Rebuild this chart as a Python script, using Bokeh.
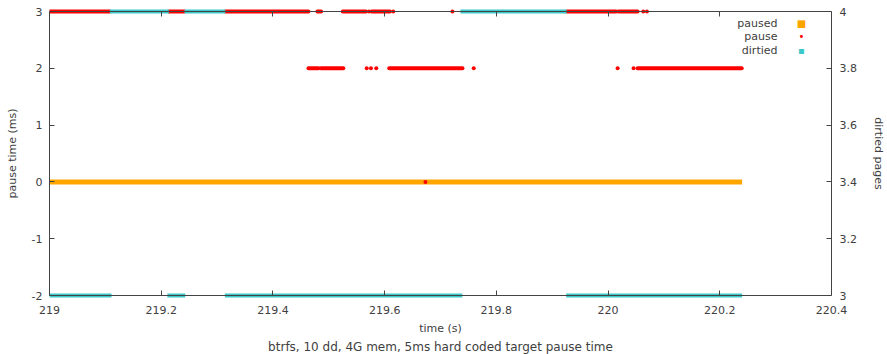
from bokeh.plotting import figure
from bokeh.models import Range1d, LinearAxis, Label, Title, FixedTicker
from bokeh.embed import file_html
from bokeh.resources import INLINE

# ---------------- data ----------------
# x axis ticks
x_ticks = [219.0, 219.2, 219.4, 219.6, 219.8, 220.0, 220.2, 220.4]
x_tick_labels = ["219", "219.2", "219.4", "219.6", "219.8", "220", "220.2", "220.4"]
# left axis (pause time, ms)
y_ticks = [-2, -1, 0, 1, 2, 3]
y_tick_labels = ["-2", "-1", "0", "1", "2", "3"]
# right axis (dirtied pages)
y2_ticks = [3.0, 3.2, 3.4, 3.6, 3.8, 4.0]
y2_tick_labels = ["3", "3.2", "3.4", "3.6", "3.8", "4"]

# "paused" series: continuous runs of samples (start time, end time, value)
paused_start = [219.0]
paused_end = [220.24]
paused_value = [0]

# "pause" series: dense runs of samples
pause_run_start = [219.000, 219.2136, 219.3148, 219.4796, 219.525, 219.5768, 219.926, 220.0184,
                   219.4636, 219.4857, 219.6082, 220.0529]
pause_run_end = [219.108, 219.2416, 219.4636, 219.4863, 219.5666, 219.6095, 220.0143, 220.0529,
                 219.4814, 219.526, 219.7393, 220.2393]
pause_run_value = [3, 3, 3, 3, 3, 3, 3, 3,
                   2, 2, 2, 2]
# "pause" series: isolated samples
pause_pt_time = [219.572, 219.6154, 219.7214, 220.063, 220.0696,
                 219.5679, 219.5755, 219.585, 219.7595, 220.0171, 220.0457,
                 219.673]
pause_pt_value = [3, 3, 3, 3, 3,
                  2, 2, 2, 2, 2, 2,
                  0]

# "dirtied" series (right axis): dense runs of samples
dirtied_start = [219.0, 219.108, 219.211, 219.2416, 219.314, 219.7357, 219.925]
dirtied_end = [219.111, 219.2136, 219.243, 219.3148, 219.739, 219.926, 220.240]
dirtied_value = [3, 4, 3, 4, 3, 4, 3]

FONT = "DejaVu Sans"
TXT = "#404040"
LINE = "#444444"

# ranges: a few pixels of slack above/below so that marks on the border are not clipped
y_min, y_max = -2, 3
y2_min, y2_max = 3, 4
pad = 3.0 / 284.0  # fraction of the axis span
ypad = (y_max - y_min) * pad
y2pad = (y2_max - y2_min) * pad

p = figure(width=887, height=354, output_backend="svg", toolbar_location=None,
           x_range=Range1d(219.0, 220.4), y_range=Range1d(y_min - ypad, y_max + ypad),
           min_border_left=49, min_border_right=55, min_border_top=8, min_border_bottom=56,
           title=None)
p.extra_y_ranges = {"dirtied": Range1d(y2_min - y2pad, y2_max + y2pad)}
p.grid.visible = False
p.outline_line_color = None
p.background_fill_color = "white"
p.border_fill_color = "white"

bottom = p.below[0]          # labels only
left = p.left[0]
right = LinearAxis(y_range_name="dirtied")
p.add_layout(right, "right")
top = LinearAxis()           # mirror line + ticks at y = 3
p.add_layout(top, "above")
bottom_line = LinearAxis()   # line + ticks at y = -2 (ticks pointing up)
p.add_layout(bottom_line, "above")

bottom.axis_label = "time (s)"
left.axis_label = "pause time (ms)"
right.axis_label = "dirtied pages"

bottom.ticker = FixedTicker(ticks=x_ticks)
bottom.major_label_overrides = dict(zip(x_ticks, x_tick_labels))
bottom.axis_line_color = None
bottom.major_tick_line_color = None
bottom.minor_tick_line_color = None

for ax, loc in [(bottom_line, y_min), (top, y_max)]:
    ax.ticker = FixedTicker(ticks=x_ticks)
    ax.major_label_overrides = {t: "" for t in x_ticks}
    ax.major_label_text_font_size = "1px"
    ax.major_label_standoff = 0
    ax.fixed_location = loc

left.ticker = FixedTicker(ticks=y_ticks)
left.major_label_overrides = dict(zip(y_ticks, y_tick_labels))
left.bounds = (y_min, y_max)
right.ticker = FixedTicker(ticks=y2_ticks)
right.major_label_overrides = dict(zip(y2_ticks, y2_tick_labels))
right.bounds = (y2_min, y2_max)

for ax in [bottom_line, top, left, right]:
    ax.major_tick_in = 5
    ax.major_tick_out = 0
    ax.minor_tick_line_color = None
    ax.axis_line_color = LINE
    ax.major_tick_line_color = LINE
bottom_line.major_tick_in = 0
bottom_line.major_tick_out = 5
for ax in [bottom, bottom_line, top, left, right]:
    ax.major_label_text_font = FONT
    ax.major_label_text_color = TXT
    ax.axis_label_text_font = FONT
    ax.axis_label_text_color = TXT
    ax.axis_label_text_font_style = "normal"
    ax.axis_label_text_font_size = "11px"
for ax in [bottom, left, right]:
    ax.major_label_text_font_size = "11px"
bottom.major_tick_in = 0
bottom.major_tick_out = 0
bottom.major_label_standoff = 7
bottom.axis_label_standoff = 5
left.major_label_standoff = 7
left.axis_label_standoff = 10
right.major_label_standoff = 8
right.axis_label_standoff = 12

p.add_layout(Title(text="btrfs, 10 dd, 4G mem, 5ms hard coded target pause time",
                   align="center", text_font=FONT, text_font_size="12px", standoff=1,
                   text_font_style="normal", text_color=TXT), "below")

# paused (orange)
p.segment(x0=paused_start, y0=paused_value, x1=paused_end, y1=paused_value,
          line_color="#ffa500", line_width=5)
# pause (red)
p.segment(x0=pause_run_start, y0=pause_run_value, x1=pause_run_end, y1=pause_run_value,
          line_color="#ff0000", line_width=4, line_cap="round")
p.scatter(x=pause_pt_time, y=pause_pt_value, marker="circle", size=4,
          fill_color="#ff0000", line_color=None)
# dirtied (cyan)
p.segment(x0=dirtied_start, y0=dirtied_value, x1=dirtied_end, y1=dirtied_value,
          line_color="#3cc8c8", line_width=4, y_range_name="dirtied")
p.segment(x0=dirtied_start, y0=dirtied_value, x1=dirtied_end, y1=dirtied_value,
          line_color="#009a9a", line_width=1, y_range_name="dirtied")

# legend (text right-aligned, marker to the right, as in the original)
leg_names = ["paused", "pause", "dirtied"]
leg_colors = ["#ffa500", "#ff0000", "#3cc8c8"]
leg_marks = ["\u25a0", "\u2022", "\u25aa"]
for i, (nm, col, mk) in enumerate(zip(leg_names, leg_colors, leg_marks)):
    p.add_layout(Label(x=728, y=275 - 13.3 * i, x_units="screen", y_units="screen",
                       text=nm, text_font=FONT, text_font_size="11px", text_color=TXT,
                       text_align="right", text_baseline="middle"))
    p.add_layout(Label(x=752, y=275 - 13.3 * i, x_units="screen", y_units="screen",
                       text=mk, text_font=FONT, text_font_size="10px", text_color=col,
                       text_align="center", text_baseline="middle"))

open("out.html", "w").write(file_html(p, INLINE))
